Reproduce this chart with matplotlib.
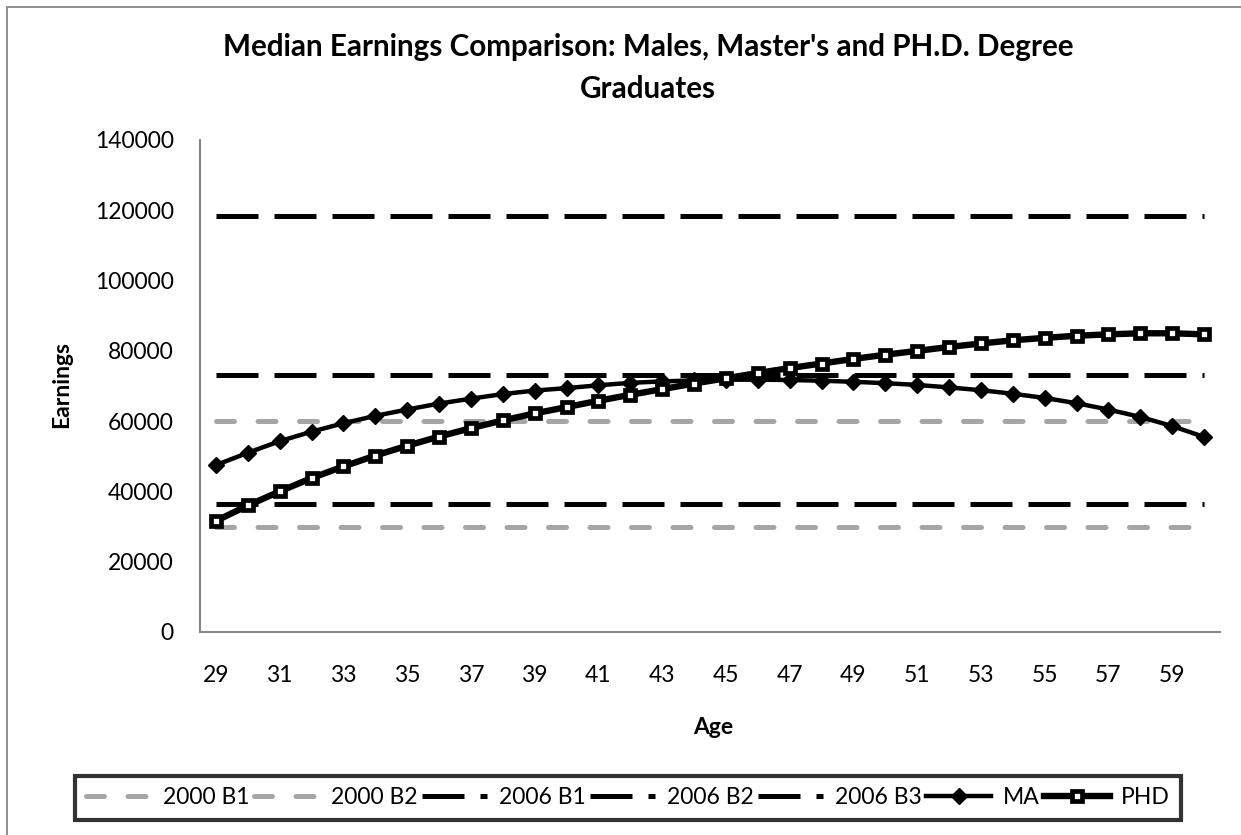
import matplotlib
matplotlib.use("Agg")
import matplotlib.pyplot as plt
from matplotlib.patches import Rectangle

# ---- data ----
AGES = list(range(29, 61))
MA = [47500, 51000, 54300, 57000, 59400, 61500, 63300, 65000, 66400, 67700,
      68700, 69400, 70200, 70900, 71300, 71600, 71800, 71800, 71700, 71500,
      71200, 70800, 70300, 69600, 68800, 67800, 66600, 65100, 63300, 61200,
      58600, 55500]
PHD = [31600, 36000, 40000, 43800, 47100, 50200, 53000, 55600, 58000, 60200,
       62200, 64000, 65800, 67500, 69100, 70700, 72200, 73700, 75100, 76400,
       77700, 78900, 80000, 81100, 82100, 83000, 83700, 84300, 84700, 85000,
       85000, 84700]

# flat benchmark lines
BENCH_2000 = {"2000 B1": 30000, "2000 B2": 60000}
BENCH_2006 = {"2006 B1": 36500, "2006 B2": 73000, "2006 B3": 118500}

TITLE = "Median Earnings Comparison: Males, Master's and PH.D. Degree\nGraduates"
X_TICKS = list(range(29, 61, 2))
Y_TICKS = list(range(0, 140001, 20000))

W, H = 1241, 835
GRAY = "#A6A6A6"
AXIS_GRAY = "#868686"

plt.rcParams["font.family"] = ["Lato", "DejaVu Sans"]

fig = plt.figure(figsize=(W / 100, H / 100), dpi=100)
fig.patch.set_facecolor("white")

# chart-area border
fig.patches.append(Rectangle((7 / W, -0.05), 1.2, 1 - 7 / H + 0.05,
                             transform=fig.transFigure, fill=False,
                             edgecolor=AXIS_GRAY, lw=1.3))

ax = fig.add_axes([200 / W, (H - 632) / H, 1020 / W, 492 / H])

for name, val in BENCH_2000.items():
    ax.plot([AGES[0], AGES[-1]], [val, val], color=GRAY, lw=3.6,
            ls=(0, (3.6, 4.7)), dash_capstyle="round", label=name)
for name, val in BENCH_2006.items():
    ax.plot([AGES[0], AGES[-1]], [val, val], color="black", lw=3.6,
            ls=(0, (8.4, 3.2)), dash_capstyle="butt", label=name)

ax.plot(AGES, MA, color="black", lw=3.2, marker="D", ms=8.5,
        mfc="black", mec="black", mew=1, label="MA")
ax.plot(AGES, PHD, color="black", lw=4.6, marker="s", ms=6.6,
        mfc="white", mec="black", mew=3.4, label="PHD")

ax.set_xlim(28.5, 60.5)
ax.set_ylim(0, 140000)
ax.set_xticks(X_TICKS)
ax.set_yticks(Y_TICKS)
ax.set_yticklabels([str(v) for v in Y_TICKS])
ax.tick_params(axis="x", length=0, pad=24, labelsize=16.5)
ax.tick_params(axis="y", length=0, pad=19, labelsize=16.5)
for side in ("top", "right"):
    ax.spines[side].set_visible(False)
for side in ("left", "bottom"):
    ax.spines[side].set_color(AXIS_GRAY)
    ax.spines[side].set_linewidth(1.5)

fig.text(648 / W, 1 - 68 / H, TITLE, ha="center", va="center",
         fontsize=21.3, fontweight="bold", linespacing=1.6)
fig.text(62 / W, 1 - 385 / H, "Earnings", rotation=90, ha="center",
         va="center", fontsize=16.5, fontweight="bold")
fig.text(713 / W, 1 - 728 / H, "Age", ha="center", va="center",
         fontsize=16.5, fontweight="bold")

leg = fig.legend(loc="center", bbox_to_anchor=(628 / W, 1 - 798 / H),
                 ncol=7, fontsize=16.5, handlelength=2.85, handletextpad=0.5,
                 columnspacing=0.2, borderpad=0.5, borderaxespad=0,
                 fancybox=False, frameon=True)
leg.get_frame().set_edgecolor("black")
leg.get_frame().set_linewidth(3)

fig.savefig("out.png", dpi=100, facecolor="white")
